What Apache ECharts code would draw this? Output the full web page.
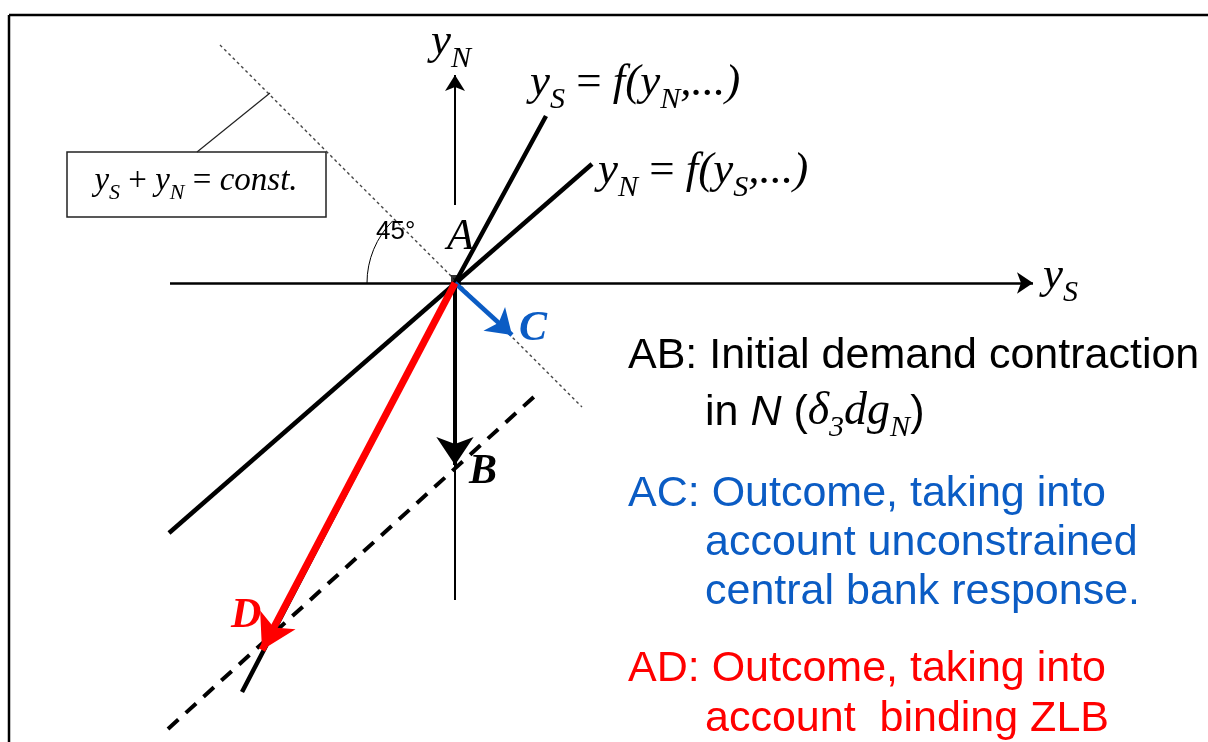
<!DOCTYPE html>
<html><head><meta charset="utf-8">
<script src="https://cdn.jsdelivr.net/npm/echarts@6/dist/echarts.min.js"></script>
<style>html,body{margin:0;padding:0;background:#fff}#c{width:1208px;height:742px}</style>
</head><body><div id="c"></div>
<script>
// ---- diagram data (units: origin at point A, y upward) ----
const pointA = [0, 0];
const pointB = [0, -182];
const pointC = [57, -52];
const pointD = [-193, -367];
const axisYS = [[-285, 0], [578, 0]];
const axisYNup = [[0, 78], [0, 208]];
const axisYNdown = [[0, 0], [0, -317]];
const curveYSofYN = [[91, 167], [0, 0], [-213, -409]];   // yS = f(yN,...)
const curveYNofYS = [[137, 119], [-286, -250]];           // yN = f(yS,...)
const isoLine = [[-235, 238], [127, -124]];               // yS + yN = const.
const shiftedLine = [[-287, -446], [82, -111]];           // dashed, through B
const leaderLine = [[-185, 190], [-258, 131]];
const markerA = [[1, 3]];

// ---- texts ----
const explainAB = ['AB: Initial demand contraction'];
const explainAC = ['AC: Outcome, taking into', 'account unconstrained', 'central bank response.'];
const explainAD = ['AD: Outcome, taking into', 'account  binding ZLB'];

const BLUE = '#0B5CC4', RED = '#FF0000';
const SERIF = "'Liberation Serif', serif", SANS = "'Liberation Sans', Arial, sans-serif";

const chart = echarts.init(document.getElementById('c'), null, {renderer: 'canvas'});

function seg(name, data, color, width, type, z) {
  return {type: 'line', name, data, symbol: 'none', showSymbol: false, clip: false, silent: true,
    lineStyle: {color, width, type: type || 'solid'}, z: z || 2};
}
function arrow(name, from, to, color, width, headW, headH, z) {
  return {type: 'lines', name, coordinateSystem: 'cartesian2d', silent: true, z: z || 3,
    symbol: ['none', 'arrow'], symbolSize: [0, [headW, headH]],
    lineStyle: {color, width, opacity: 1, curveness: 0},
    data: [{coords: [from, to]}]};
}

const mctx = document.createElement('canvas').getContext('2d');
function fontStr(p) { return (p.st || 'normal') + ' ' + (p.w || 'normal') + ' ' + p.fs + 'px ' + p.f; }
function runText(x, base, parts, color, align) {
  const widths = parts.map(p => { mctx.font = fontStr(p); return mctx.measureText(p.t).width; });
  const total = widths.reduce((a, b) => a + b, 0);
  let cx = align === 'center' ? x - total / 2 : x;
  return parts.map((p, i) => {
    const el = {type: 'text', x: cx, y: base + (p.dy || 0) - 0.34 * p.fs, z: 100,
      style: {text: p.t, font: fontStr(p), fill: p.c || color, align: 'left', verticalAlign: 'middle'}};
    cx += widths[i];
    return el;
  });
}
const M = 45, SB = 30, DY = 12;
const it = (t, fs, dy) => ({t, f: SERIF, fs, st: 'italic', dy: dy || 0});
const rm = (t, fs) => ({t, f: SERIF, fs});

const A0 = [455, 283];
let g = [];
// frame
g.push({type: 'line', shape: {x1: 9, y1: 15, x2: 1208, y2: 15}, style: {stroke: '#000', lineWidth: 2.5}});
g.push({type: 'line', shape: {x1: 9, y1: 15, x2: 9, y2: 742}, style: {stroke: '#000', lineWidth: 2.5}});
// box
g.push({type: 'rect', shape: {x: 67, y: 152, width: 259, height: 65}, style: {fill: null, stroke: '#222', lineWidth: 1.5}});
// 45 deg arc
g.push({type: 'arc', shape: {cx: A0[0], cy: A0[1], r: 88, startAngle: Math.PI, endAngle: Math.PI * 1.25, clockwise: true},
  style: {stroke: '#000', lineWidth: 1, fill: null}});

g = g.concat(runText(196, 193, [it('y', 33), it('S', 22, 8), rm(' + ', 33), it('y', 33), it('N', 22, 8), rm(' = ', 33), it('const.', 33)], '#000', 'center'));
g = g.concat(runText(431, 57, [it('y', M), it('N', SB, DY)], '#000'));
g = g.concat(runText(530, 98, [it('y', M), it('S', SB, DY), rm(' = ', M), it('f(y', M), it('N', SB, DY), it(',...)', M)], '#000'));
g = g.concat(runText(598, 186, [it('y', M), it('N', SB, DY), rm(' = ', M), it('f(y', M), it('S', SB, DY), it(',...)', M)], '#000'));
g = g.concat(runText(1043, 291, [it('y', M), it('S', SB, DY)], '#000'));
g = g.concat(runText(376, 241, [{t: '45°', f: SANS, fs: 26}], '#000'));
g = g.concat(runText(447, 252, [it('A', 44)], '#000'));
g = g.concat(runText(469, 486, [{t: 'B', f: SERIF, fs: 42, st: 'italic', w: 'bold'}], '#000'));
g = g.concat(runText(519, 343, [{t: 'C', f: SERIF, fs: 42, st: 'italic', w: 'bold'}], BLUE));
g = g.concat(runText(231, 630, [{t: 'D', f: SERIF, fs: 42, st: 'italic', w: 'bold'}], RED));

const FS = 43;
g = g.concat(runText(628, 371, [{t: explainAB[0], f: SANS, fs: FS}], '#000'));
g = g.concat(runText(705, 428, [{t: 'in ', f: SANS, fs: FS}, {t: 'N', f: SANS, fs: FS, st: 'italic'}, {t: ' (', f: SANS, fs: FS},
  it('δ', 46), it('3', 30, 10), it('dg', 46), it('N', 30, 10), {t: ')', f: SANS, fs: FS}], '#000'));
[509, 558, 607].forEach((b, i) => { g = g.concat(runText(i ? 705 : 628, b, [{t: explainAC[i], f: SANS, fs: FS}], BLUE)); });
[684, 734].forEach((b, i) => { g = g.concat(runText(i ? 705 : 628, b, [{t: explainAD[i], f: SANS, fs: FS}], RED)); });

const option = {
  backgroundColor: '#fff',
  animation: false,
  grid: {left: 0, right: 0, top: 0, bottom: 0, containLabel: false},
  xAxis: {type: 'value', min: -455, max: 753, show: false},
  yAxis: {type: 'value', min: -459, max: 283, show: false},
  series: [
    seg('isoLine', isoLine, '#444', 1.4, [3, 3]),
    seg('leader', leaderLine, '#222', 1.2),
    seg('yS=f(yN)', curveYSofYN, '#000', 4.5),
    seg('yN=f(yS)', curveYNofYS, '#000', 4.5),
    seg('yN axis down', axisYNdown, '#000', 2),
    seg('shifted', shiftedLine, '#000', 4, [14, 10]),
    arrow('yS axis', axisYS[0], axisYS[1], '#000', 2.5, 16, 16),
    arrow('yN axis', axisYNup[0], axisYNup[1], '#000', 2, 15, 16),
    arrow('AB', pointA, pointB, '#000', 4, 28, 28, 4),
    {type: 'scatter', name: 'A', data: markerA, symbol: 'rect', symbolSize: 10, itemStyle: {color: '#000'}, silent: true, z: 5},
    arrow('AC', pointA, pointC, BLUE, 4.5, 24, 24, 6),
    arrow('AD', pointA, pointD, RED, 7, 30, 34, 7)
  ],
  graphic: g
};
chart.setOption(option);
</script></body></html>
